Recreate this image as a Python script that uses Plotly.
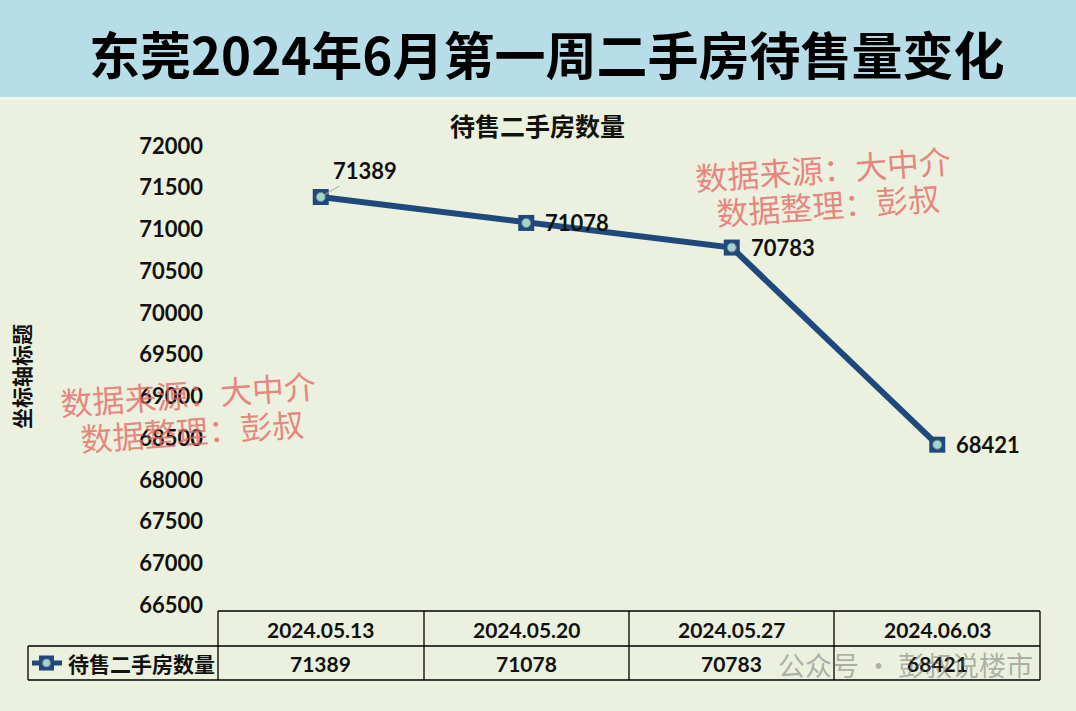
import plotly.graph_objects as go

# ---- data ----
dates = ["2024.05.13", "2024.05.20", "2024.05.27", "2024.06.03"]
listings = [71389, 71078, 70783, 68421]
series_name = "待售二手房数量"
title_text = "东莞2024年6月第一周二手房待售量变化"
chart_title = "待售二手房数量"
y_axis_title = "坐标轴标题"
watermark_lines = ["数据来源：大中介", "数据整理：彭叔"]
platform_mark = "公众号 · 彭叔说楼市"

W, H = 1076, 711
def X(px): return px / W
def Y(py): return 1 - py / H

BANNER = "#b7dde8"
BODY = "#ebf1de"
LINE = "#1f497d"
FILL = "#9fd6cf"
NUM_FONT = "Lato"
CJK = "Noto Sans CJK SC"

fig = go.Figure()

# line + square markers
fig.add_trace(go.Scatter(
    x=dates, y=listings, mode="lines+markers",
    line=dict(color=LINE, width=6),
    marker=dict(symbol="square", size=16, color=LINE),
    cliponaxis=False, showlegend=False, hoverinfo="skip"))
# inner circles
fig.add_trace(go.Scatter(
    x=dates, y=listings, mode="markers",
    marker=dict(symbol="circle", size=9, color=FILL, line=dict(color="#7f7f7f", width=1)),
    cliponaxis=False, showlegend=False, hoverinfo="skip"))

annotations = []
shapes = []

label_font = dict(family=NUM_FONT, size=22, color="#111111", weight="bold")
# first label with leader line
annotations.append(dict(
    x=dates[0], y=listings[0], xref="x", yref="y", text=f"{listings[0]}",
    showarrow=True, arrowhead=0, arrowwidth=1, arrowcolor="#a6a6a6",
    ax=44, ay=-26, standoff=4, font=label_font))
# other labels to the right
for d, v in list(zip(dates, listings))[1:]:
    annotations.append(dict(x=d, y=v, xref="x", yref="y", text=f"{v}", showarrow=False,
                            xanchor="left", yanchor="middle", xshift=17, font=label_font))

# banner
shapes.append(dict(type="rect", xref="paper", yref="paper", x0=0, x1=1, y0=Y(97), y1=1,
                   fillcolor=BANNER, line=dict(width=0), layer="below"))
shapes.append(dict(type="line", xref="paper", yref="paper", x0=0, x1=1, y0=Y(98.5), y1=Y(98.5),
                   line=dict(color="#f4f7ee", width=2), layer="below"))
annotations.append(dict(x=X(546), y=Y(53), xref="paper", yref="paper", text=title_text,
                        showarrow=False, xanchor="center", yanchor="middle",
                        font=dict(family=CJK, size=51, color="#000000", weight="bold")))

# chart title
annotations.append(dict(x=X(537), y=Y(125), xref="paper", yref="paper", text=chart_title,
                        showarrow=False, xanchor="center", yanchor="middle",
                        font=dict(family=CJK, size=25, color="#111111", weight="bold")))
# y axis title
annotations.append(dict(x=X(21), y=Y(377), xref="paper", yref="paper", text=y_axis_title,
                        showarrow=False, textangle=-90, xanchor="center", yanchor="middle",
                        font=dict(family=CJK, size=21, color="#111111", weight="bold")))

# ---- data table ----
tl = dict(color="#000000", width=1.3)
def hline(y, x0, x1):
    shapes.append(dict(type="line", xref="paper", yref="paper", x0=X(x0), x1=X(x1),
                       y0=Y(y), y1=Y(y), line=tl))
def vline(x, y0, y1):
    shapes.append(dict(type="line", xref="paper", yref="paper", x0=X(x), x1=X(x),
                       y0=Y(y0), y1=Y(y1), line=tl))
hline(611, 218, 1040)
hline(646, 28, 1040)
hline(680, 28, 1040)
for xv in [218, 424, 629, 834, 1040]:
    vline(xv, 611, 680)
vline(28, 646, 680)

cell_font = dict(family=NUM_FONT, size=21, color="#111111", weight="bold")
for d, v in zip(dates, listings):
    annotations.append(dict(x=d, y=Y(629), xref="x", yref="paper", text=d, showarrow=False,
                            xanchor="center", yanchor="middle", font=cell_font))
    annotations.append(dict(x=d, y=Y(663), xref="x", yref="paper", text=f"{v}", showarrow=False,
                            xanchor="center", yanchor="middle", font=cell_font))

# legend key in table
shapes.append(dict(type="line", xref="paper", yref="paper", x0=X(32), x1=X(62), y0=Y(663), y1=Y(663),
                   line=dict(color=LINE, width=5)))
shapes.append(dict(type="rect", xref="paper", yref="paper", x0=X(39), x1=X(54), y0=Y(670.5), y1=Y(655.5),
                   fillcolor=LINE, line=dict(width=0)))
shapes.append(dict(type="circle", xref="paper", yref="paper", x0=X(42.5), x1=X(50.5), y0=Y(667), y1=Y(659),
                   fillcolor=FILL, line=dict(color="#7f7f7f", width=1)))
annotations.append(dict(x=X(66), y=Y(663), xref="paper", yref="paper", text=series_name,
                        showarrow=False, xanchor="left", yanchor="middle",
                        font=dict(family=CJK, size=21, color="#111111", weight="bold")))

# watermarks
wm_color = "rgba(230,105,100,0.78)"
for (cx1, cy1, cx2, cy2) in [(823, 168, 828, 204), (188, 393, 192, 430)]:
    annotations.append(dict(x=X(cx1), y=Y(cy1), xref="paper", yref="paper", text=watermark_lines[0],
                            showarrow=False, textangle=-4, xanchor="center", yanchor="middle",
                            font=dict(family=CJK, size=32, color=wm_color)))
    annotations.append(dict(x=X(cx2), y=Y(cy2), xref="paper", yref="paper", text=watermark_lines[1],
                            showarrow=False, textangle=-4, xanchor="center", yanchor="middle",
                            font=dict(family=CJK, size=32, color=wm_color)))

# platform mark
annotations.append(dict(x=X(776), y=Y(664), xref="paper", yref="paper", text=platform_mark,
                        showarrow=False, xanchor="left", yanchor="middle",
                        font=dict(family=CJK, size=27, color="rgba(110,110,110,0.5)")))

fig.update_layout(
    width=W, height=H, autosize=False,
    margin=dict(l=0, r=0, t=0, b=0, pad=0),
    paper_bgcolor=BODY, plot_bgcolor=BODY,
    xaxis=dict(domain=[X(218), X(1040)], type="category", range=[-0.5, 3.5], automargin=False,
               showgrid=False, zeroline=False, showticklabels=False, showline=False, fixedrange=True),
    yaxis=dict(domain=[Y(605), Y(146)], range=[66500, 72000], dtick=500, tick0=66500,
               automargin=False,
               tickformat="d", showgrid=False, zeroline=False, showline=False,
               ticks="", ticklabelstandoff=14,
               tickfont=dict(family=NUM_FONT, size=22, color="#111111", weight="bold"),
               fixedrange=True),
    shapes=shapes, annotations=annotations,
)

fig.write_html("out.html")
